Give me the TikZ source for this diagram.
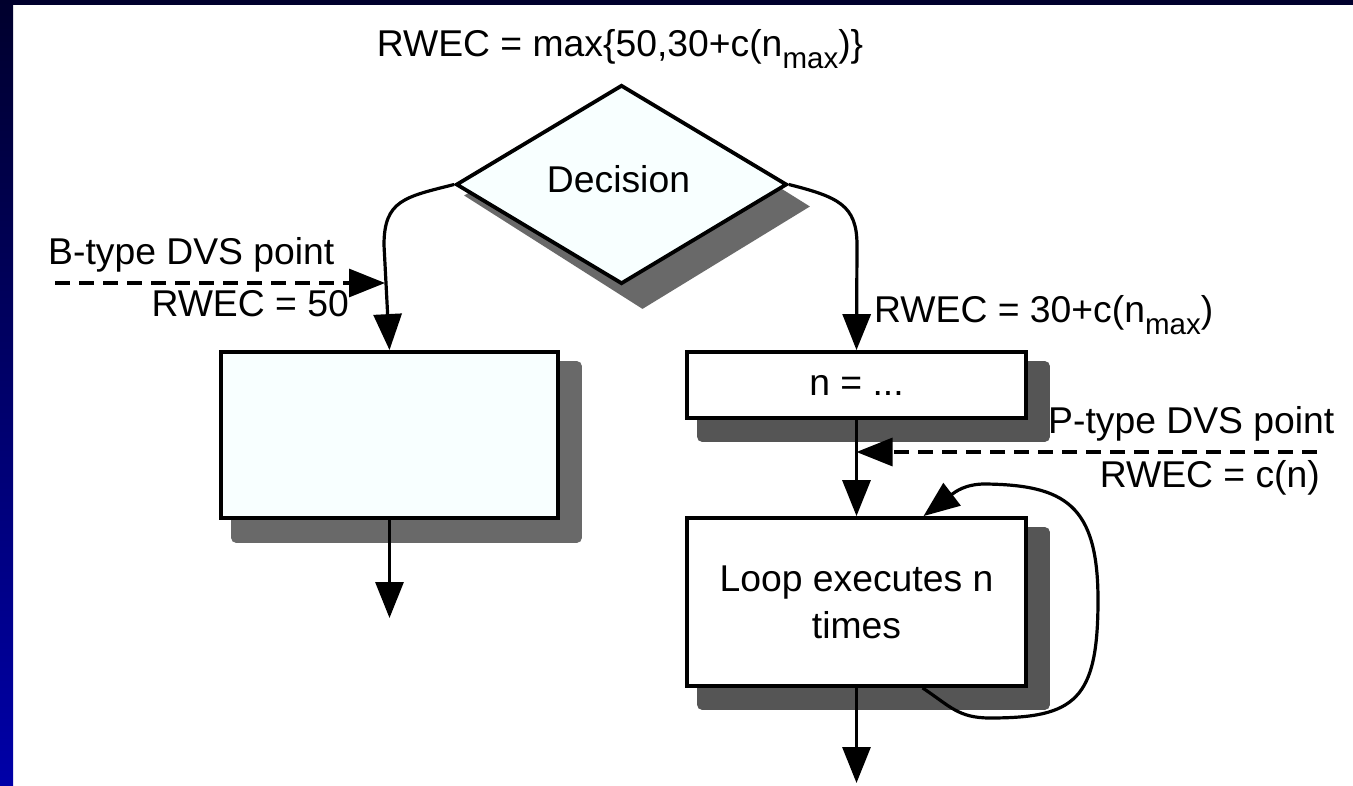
\documentclass[tikz,border=0pt]{standalone}
\usepackage{fontspec}
\setmainfont{Liberation Sans}
\usetikzlibrary{shapes.geometric,arrows.meta,calc}
\pgfdeclarelayer{bg}
\pgfdeclarelayer{shadow}
\pgfsetlayers{bg,shadow,main}

\definecolor{paneltint}{RGB}{248,255,255}
\definecolor{shadowA}{RGB}{105,105,105}
\definecolor{shadowB}{RGB}{85,85,85}
\definecolor{frametop}{RGB}{0,0,45}
\definecolor{framebot}{RGB}{0,0,168}

% lowered, smaller subscript text
\newcommand{\sublow}[1]{\raisebox{-12pt}{\fontsize{29.5}{29.5}\selectfont #1}}

\begin{document}
\begin{tikzpicture}[x=1pt,y=-1pt,
  font=\fontsize{37.3}{47}\selectfont,
  box/.style={draw, line width=3.8pt, rectangle, inner sep=0pt, align=center},
  flow/.style={line width=3.2pt, -{Triangle[length=36pt,width=28pt]}},
  probe/.style={flow, dash pattern=on 15pt off 9pt},
  lbl/.style={inner sep=0pt}]

\useasboundingbox (0,0) rectangle (1353,786);

% slide frame
\begin{pgfonlayer}{bg}
  \fill[white] (0,0) rectangle (1353,786);
  \fill[frametop] (0,0) rectangle (1353,5);
  \shade[top color=frametop, bottom color=framebot] (0,0) rectangle (13,786);
\end{pgfonlayer}

% flowchart blocks
\node[diamond, draw, line width=3.8pt, fill=paneltint, minimum width=331pt,
      minimum height=199pt, inner sep=0pt] (dec) at (621.5,184.5) {};
\node[lbl, anchor=base] (dectext) at (618.5,193) {Decision};
\node[box, fill=paneltint, minimum width=337pt, minimum height=166pt] (boxA) at (389.5,435) {};
\node[box, fill=white, minimum width=339pt, minimum height=66pt] (nbox) at (856.5,385) {n = ...};
\node[box, fill=white, minimum width=339pt, minimum height=168pt] (loop) at (856.5,602) {Loop executes n\\times};

% drop shadows
\begin{pgfonlayer}{shadow}
  \fill[shadowA] ($(dec.north)+(15,15)$) -- ($(dec.east)+(21,22)$)
     -- ($(dec.south)+(21,23)$) -- ($(dec.west)+(10,11)$) -- cycle;
  \fill[shadowA, rounded corners=5pt] ($(boxA.north west)+(12,11)$) rectangle ($(boxA.south east)+(22,23)$);
  \fill[shadowB, rounded corners=5pt] ($(nbox.north west)+(12,11)$) rectangle ($(nbox.south east)+(22,22)$);
  \fill[shadowB, rounded corners=5pt] ($(loop.north west)+(12,11)$) rectangle ($(loop.south east)+(22,22)$);
\end{pgfonlayer}

% labels
\node[lbl, anchor=base] (rtop) at (620,57) {RWEC = max\{50,30+c(n\sublow{max})\}};
\node[lbl, anchor=base west] (btxt) at (48,265) {B-type DVS point};
\node[lbl, anchor=base east] (brw) at (349,317) {RWEC = 50};
\node[lbl, anchor=base west] (rrw) at (874,323) {RWEC = 30+c(n\sublow{max})};
\node[lbl, anchor=base west] (ptxt) at (1048,433) {P-type DVS point};
\node[lbl, anchor=base east] (prw) at (1320,487) {RWEC = c(n)};

% connector ends
\coordinate (bstart) at (55,283);
\coordinate (bhit) at (385,283);
\coordinate (pstart) at (1317,452);
\coordinate (phit) at (856.5,452);
\coordinate (aout) at (389.5,618);
\coordinate (lout) at (856.5,783);
\coordinate (lb1) at ($(loop.south)+(66,0)$);
\coordinate (lb2) at ($(loop.north)+(67,0)$);

% connectors
\draw[flow] (dec.west) .. controls (405,197) and (384,200) .. (384,245) -- (boxA.north);
\draw[flow] (dec.east) .. controls (838,197) and (857,205) .. (857,245) -- (nbox.north);
\draw[flow] (boxA.south) -- (aout);
\draw[flow] (nbox.south) -- (loop.north);
\draw[flow] (loop.south) -- (lout);
\draw[probe] (bstart) -- (bhit);
\draw[probe] (pstart) -- (phit);
\draw[flow] (lb1) .. controls (950,706) and (958,718) .. (990,718)
   .. controls (1075,718) and (1098,700) .. (1098,600)
   .. controls (1098,505) and (1065,485) .. (985,484)
   .. controls (965,484) and (955,492) .. (lb2);
\end{tikzpicture}
\end{document}
